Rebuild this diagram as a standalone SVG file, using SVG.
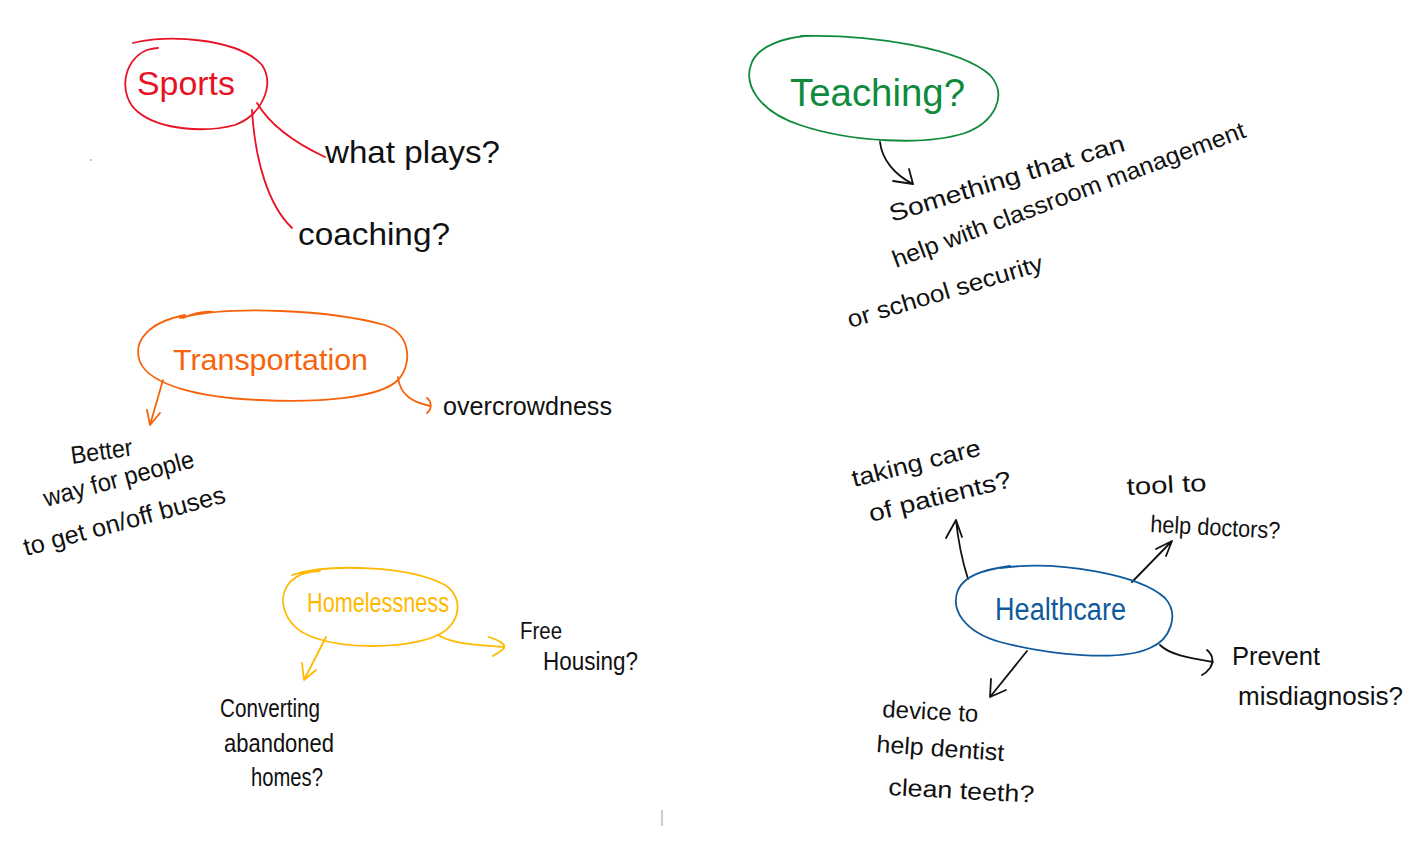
<svg xmlns="http://www.w3.org/2000/svg" width="1425" height="858" viewBox="0 0 1425 858">
<style>
.ink{fill:none;stroke-width:1.8;stroke-linecap:round;stroke-linejoin:round}
.k{stroke:#111}
.t{font-family:"Liberation Sans",Arial,sans-serif;font-weight:normal;fill:#111}
.red{stroke:#e81224}.grn{stroke:#108a3c}.org{stroke:#f7630c}.yel{stroke:#ffb900}.blu{stroke:#0f5a9c}
</style>
<rect width="1425" height="858" fill="#fff"/>
<g id="connectors">
  <path class="ink red" d="M257,103 C270,125 295,143 325,157"/>
  <path class="ink red" d="M252,110 C255,160 268,205 292,228"/>
  <path class="ink k" d="M880,142 C882,160 895,175 913,184 M893,181 L913,184 L909,169"/>
  <path class="ink org" d="M163,380 L150,425 M147,410 L150,425 L160,413"/>
  <path class="ink org" d="M398,377 C400,395 412,402 430,406 M427,398 C432,402 432,409 427,413"/>
  <path class="ink yel" d="M326,637 L304,680 M302,663 L304,680 L316,670"/>
  <path class="ink yel" d="M438,635 C455,645 480,645 504,647 M489,637 C498,640 506,644 504,648 C502,651 496,654 493,656"/>
  <path class="ink k" d="M968,579 C962,560 958,540 956,520 M946,538 L956,520 L962,537"/>
  <path class="ink k" d="M1132,582 L1172,541 M1156,549 L1172,541 L1166,556"/>
  <path class="ink k" d="M1160,645 C1170,655 1190,658 1213,662 M1207,650 C1213,655 1214,662 1210,668 C1207,672 1204,674 1202,675"/>
  <path class="ink k" d="M1027,651 L990,697 M991,679 L990,697 L1006,690"/>
</g>
<g id="sports">
  <path class="ink red" d="M133,43 C165,34 238,38 262,65 C275,85 262,115 235,125 C205,133 160,130 138,112 C118,96 122,60 147,50 C151,49 155,48 158,48"/>
  <text x="137" y="95" class="t" font-size="33" style="fill:#e81224" textLength="98" lengthAdjust="spacingAndGlyphs">Sports</text>
</g>
<g id="what-plays">
  <text x="325" y="163" class="t" font-size="32" textLength="175" lengthAdjust="spacingAndGlyphs">what plays?</text>
</g>
<g id="coaching">
  <text x="298" y="245" class="t" font-size="32" textLength="152" lengthAdjust="spacingAndGlyphs">coaching?</text>
</g>
<g id="teaching">
  <path class="ink grn" d="M801,36 C870,34 960,48 990,75 C1008,95 995,122 965,133 C925,146 850,142 800,125 C760,112 742,85 752,62 C760,45 785,38 805,36"/>
  <text x="790" y="106" class="t" font-size="38" style="fill:#108a3c" textLength="175" lengthAdjust="spacingAndGlyphs">Teaching?</text>
</g>
<g id="teaching-note">
  <text class="t" font-size="24" transform="translate(892,222) rotate(-17)" textLength="245" lengthAdjust="spacingAndGlyphs">Something that can</text>
  <text class="t" font-size="24" transform="translate(896,268) rotate(-20.5)" textLength="375" lengthAdjust="spacingAndGlyphs">help with classroom management</text>
  <text class="t" font-size="24" transform="translate(850,328) rotate(-16.5)" textLength="203" lengthAdjust="spacingAndGlyphs">or school security</text>
</g>
<g id="transportation">
  <path class="ink org" d="M180,318 C230,305 330,310 385,325 C412,335 412,365 398,380 C380,398 320,403 260,400 C200,398 150,385 140,362 C132,340 150,322 185,315 M183,318 C195,313 205,311 213,312"/>
  <text x="173" y="370" class="t" font-size="30" style="fill:#f7630c" textLength="195" lengthAdjust="spacingAndGlyphs">Transportation</text>
</g>
<g id="overcrowdness">
  <text x="443" y="415" class="t" font-size="26" textLength="169" lengthAdjust="spacingAndGlyphs">overcrowdness</text>
</g>
<g id="better-way">
  <text class="t" font-size="25" transform="translate(72,464) rotate(-8)" textLength="62" lengthAdjust="spacingAndGlyphs">Better</text>
  <text class="t" font-size="25" transform="translate(46,507) rotate(-15)" textLength="155" lengthAdjust="spacingAndGlyphs">way for people</text>
  <text class="t" font-size="25" transform="translate(26,556) rotate(-15)" textLength="208" lengthAdjust="spacingAndGlyphs">to get on/off buses</text>
</g>
<g id="homelessness">
  <path class="ink yel" d="M292,575 C330,563 410,566 445,585 C465,598 460,625 438,635 C410,648 350,650 315,638 C285,628 275,600 290,582 C298,574 310,571 320,571"/>
  <text x="307" y="612" class="t" font-size="27" style="fill:#ffb900" textLength="142" lengthAdjust="spacingAndGlyphs">Homelessness</text>
</g>
<g id="free-housing">
  <text x="520" y="639" class="t" font-size="24" textLength="42" lengthAdjust="spacingAndGlyphs">Free</text>
  <text x="543" y="670" class="t" font-size="26" textLength="95" lengthAdjust="spacingAndGlyphs">Housing?</text>
</g>
<g id="converting">
  <text x="220" y="717" class="t" font-size="25" textLength="100" lengthAdjust="spacingAndGlyphs">Converting</text>
  <text x="224" y="752" class="t" font-size="25" textLength="110" lengthAdjust="spacingAndGlyphs">abandoned</text>
  <text x="251" y="786" class="t" font-size="25" textLength="72" lengthAdjust="spacingAndGlyphs">homes?</text>
</g>
<g id="healthcare">
  <path class="ink blu" d="M1000,568 C1060,560 1140,575 1165,598 C1180,615 1170,640 1150,648 C1120,662 1050,655 1000,642 C965,632 950,610 958,590 C964,577 980,570 1010,566"/>
  <text x="995" y="620" class="t" font-size="31" style="fill:#0f5a9c" textLength="131" lengthAdjust="spacingAndGlyphs">Healthcare</text>
</g>
<g id="taking-care">
  <text class="t" font-size="24" transform="translate(854,487) rotate(-14)" textLength="132" lengthAdjust="spacingAndGlyphs">taking care</text>
  <text class="t" font-size="24" transform="translate(871,522) rotate(-14)" textLength="146" lengthAdjust="spacingAndGlyphs">of patients?</text>
</g>
<g id="tool-to">
  <text class="t" font-size="24" transform="translate(1127,495) rotate(-3)" textLength="80" lengthAdjust="spacingAndGlyphs">tool to</text>
  <text class="t" font-size="24" transform="translate(1150,532) rotate(3)" textLength="130" lengthAdjust="spacingAndGlyphs">help doctors?</text>
</g>
<g id="prevent">
  <text x="1232" y="665" class="t" font-size="26" textLength="88" lengthAdjust="spacingAndGlyphs">Prevent</text>
  <text x="1238" y="705" class="t" font-size="26" textLength="165" lengthAdjust="spacingAndGlyphs">misdiagnosis?</text>
</g>
<g id="device">
  <text class="t" font-size="24" transform="translate(882,717) rotate(3)" textLength="96" lengthAdjust="spacingAndGlyphs">device to</text>
  <text class="t" font-size="24" transform="translate(876,752) rotate(4)" textLength="128" lengthAdjust="spacingAndGlyphs">help dentist</text>
  <text class="t" font-size="24" transform="translate(888,795) rotate(3)" textLength="146" lengthAdjust="spacingAndGlyphs">clean teeth?</text>
</g>
<path d="M662,810 L662,826" stroke="#999" stroke-width="1"/>
<circle cx="91" cy="160" r="0.7" fill="#555"/>
</svg>
